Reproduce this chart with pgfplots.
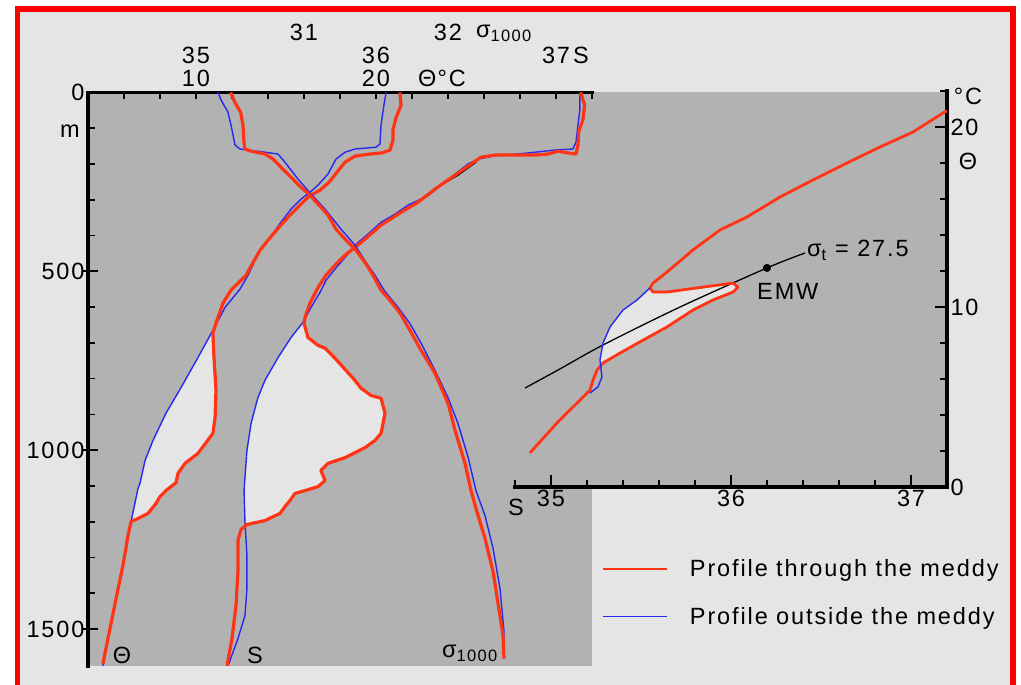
\documentclass[border=0pt]{standalone}
\usepackage{fontspec}
\setmainfont{Liberation Sans}[LetterSpace=8]
\usepackage{pgfplots}
\pgfplotsset{compat=1.18}
\definecolor{framered}{RGB}{255,0,0}
\definecolor{meddyred}{RGB}{255,52,20}
\definecolor{outblue}{RGB}{40,40,240}
\definecolor{panel}{RGB}{178,178,178}
\definecolor{paper}{RGB}{229,229,229}
\newcommand{\lab}{\fontsize{23.5bp}{27bp}\selectfont}

\pgfplotsset{
  depth panel/.style={
    at={(mainNW)}, anchor=north west, scale only axis,
    width=504bp, height=574bp,
    ymin=0, ymax=1605, y dir=reverse,
    tick label style={font=\lab},
    tick style={black, line width=1.7bp},
  },
  in meddy/.style={draw=meddyred, line width=3.2bp, line join=round},
  out meddy/.style={draw=outblue, line width=1.4bp, line join=round},
  lens/.style={fill=paper, draw=none},
}

\begin{document}
\begin{tikzpicture}[x=1bp, y=1bp, font=\lab]
\useasboundingbox (0,0) rectangle (1021,685);
\fill[white] (0,0) rectangle (1021,685);
\fill[paper] (17.5,0) rectangle (1013,676);
\draw[framered, line width=5.5bp] (17.5,0) -- (17.5,676) -- (1013,676) -- (1013,0);
% grey panels of the depth profiles and of the Theta-S diagram
\fill[panel] (88,19) rectangle (592,592.5);
\fill[panel] (510,196) rectangle (947,592.5);
\coordinate (mainNW) at (88,592.5);
\coordinate (insetSW) at (515,198);

% ---------------- potential temperature profile ----------------
\begin{axis}[depth panel,
  xmin=4, xmax=32,
  axis x line*=top, axis y line*=left,
  axis line style={line width=3.3bp, line cap=rect},
  xtick={10,20}, xticklabels={10,20}, xtick style={draw=none},
  xticklabel style={anchor=center, inner sep=0pt, yshift=14.5bp},
  ytick={0,500,1000,1500}, yticklabels={0,500,1000,1500},
  minor ytick={100,200,300,400,600,700,800,900,1100,1200,1300,1400},
  tick align=inside, major tick length=10bp, minor tick length=7bp,
  extra y ticks={500,1000,1500}, extra y tick labels={},
  extra y tick style={tick align=outside, major tick length=6bp},
]
\addplot[lens] coordinates {
  (10.94,673) (11.0,741) (11.11,833) (11.06,909) (10.94,953) (10.11,1009)
  (9.39,1037) (9.0,1065) (8.89,1091) (8.33,1113) (8.0,1130) (7.78,1149)
  (7.33,1177) (6.78,1191) (6.39,1200)
  (6.78,1107) (6.89,1093) (7.17,1029) (7.61,973) (8.33,897) (9.17,825)
  (10.11,741) (10.94,665)} -- cycle;
\addplot[out meddy] coordinates {
  (20.56,0) (20.44,35) (20.28,91) (20.22,144) (20.0,153) (18.83,158)
  (18.28,167) (17.78,186) (17.33,228) (16.78,259) (16.33,279) (15.83,298)
  (15.28,326) (14.72,363) (14.11,405) (13.61,438) (13.28,469) (12.89,511)
  (12.44,550) (11.61,601) (10.94,665) (10.11,741) (9.17,825) (8.33,897)
  (7.61,973) (7.17,1029) (6.89,1093) (6.78,1107) (6.39,1200) (6.06,1295)
  (5.67,1387) (5.28,1480) (4.94,1575) (4.83,1603)};
\addplot[in meddy] coordinates {
  (21.33,0) (21.39,35) (21.11,71) (20.94,105) (20.94,133) (20.78,161)
  (20.33,169) (19.67,172) (18.83,178) (18.28,195) (17.83,223) (17.39,251)
  (16.89,273) (16.28,290) (15.78,315) (15.22,343) (14.61,377) (14.0,413)
  (13.56,441) (13.17,475) (12.78,511) (11.94,553) (11.5,589) (11.11,645)
  (10.94,673) (11.0,741) (11.11,833) (11.06,909) (10.94,953) (10.11,1009)
  (9.39,1037) (9.0,1065) (8.89,1091) (8.33,1113) (8.0,1130) (7.78,1149)
  (7.33,1177) (6.78,1191) (6.39,1200) (6.22,1239) (5.94,1323) (5.56,1415)
  (5.22,1499) (4.83,1597)};
\end{axis}

% ---------------- salinity profile ----------------
\begin{axis}[depth panel,
  xmin=34.4, xmax=37.2,
  axis x line*=top, hide y axis,
  x axis line style={draw=none},
  xtick={34.6,34.8,35,35.2,35.4,35.6,35.8,36,36.2,36.4,36.6,36.8,37,37.2},
  xticklabels={,,35,,,,,36,,,,,37,},
  tick align=inside, major tick length=6.5bp,
  xticklabel style={anchor=center, inner sep=0pt, yshift=37bp},
]
\addplot[lens] coordinates {
  (35.600,645) (35.622,685) (35.678,707) (35.717,715) (35.772,743)
  (35.833,777) (35.883,805) (35.917,827) (35.972,847) (36.028,855)
  (36.050,897) (36.039,925) (36.028,953) (35.994,973) (35.939,993)
  (35.883,1007) (35.828,1021) (35.733,1037) (35.694,1057) (35.717,1085)
  (35.678,1102) (35.606,1113) (35.550,1121) (35.522,1141) (35.494,1158)
  (35.467,1177) (35.428,1186) (35.383,1197) (35.328,1203) (35.283,1208)
  (35.272,1200) (35.267,1113) (35.272,1077) (35.283,1001) (35.306,925)
  (35.344,853) (35.383,805) (35.456,741) (35.528,685) (35.594,643)} -- cycle;
\addplot[out meddy] coordinates {
  (37.132,0) (37.133,46) (37.122,91) (37.111,139) (37.094,158) (36.994,161)
  (36.883,167) (36.789,172) (36.678,175) (36.567,186) (36.511,200)
  (36.439,228) (36.344,265) (36.250,298) (36.178,315) (36.106,340)
  (36.028,363) (35.956,396) (35.883,427) (35.828,461) (35.772,494)
  (35.722,525) (35.689,559) (35.639,601) (35.594,643) (35.528,685)
  (35.456,741) (35.383,805) (35.344,853) (35.306,925) (35.283,1001)
  (35.272,1077) (35.267,1113) (35.272,1200) (35.283,1295) (35.283,1387)
  (35.272,1463) (35.233,1527) (35.178,1603)};
\addplot[black, line width=1.3bp] coordinates {
  (36.278,293) (36.361,259) (36.456,231) (36.556,195)};
\addplot[in meddy] coordinates {
  (37.137,0) (37.159,35) (37.150,74) (37.126,111) (37.122,147) (37.111,172)
  (37.067,169) (37.011,164) (36.956,172) (36.883,175) (36.806,175)
  (36.733,175) (36.661,175) (36.583,181) (36.528,200) (36.439,231)
  (36.328,270) (36.233,307) (36.139,335) (36.028,371) (35.939,410)
  (35.883,433) (35.828,455) (35.772,483) (35.722,511) (35.678,545)
  (35.633,589) (35.606,629) (35.600,645) (35.622,685) (35.678,707)
  (35.717,715) (35.772,743) (35.833,777) (35.883,805) (35.917,827)
  (35.972,847) (36.028,855) (36.050,897) (36.039,925) (36.028,953)
  (35.994,973) (35.939,993) (35.883,1007) (35.828,1021) (35.733,1037)
  (35.694,1057) (35.717,1085) (35.678,1102) (35.606,1113) (35.550,1121)
  (35.522,1141) (35.494,1158) (35.467,1177) (35.428,1186) (35.383,1197)
  (35.328,1203) (35.283,1208) (35.250,1222) (35.233,1253) (35.233,1340)
  (35.222,1435) (35.200,1527) (35.172,1603)};
\end{axis}

% ---------------- potential density sigma_1000 profile ----------------
\begin{axis}[depth panel,
  xmin=29.5, xmax=33,
  axis x line*=top, hide y axis,
  x axis line style={draw=none},
  xtick={31,32}, xticklabels={31,32}, xtick style={draw=none},
  xticklabel style={anchor=center, inner sep=0pt, yshift=60bp},
]
\addplot[out meddy] coordinates {
  (30.403,0) (30.424,21) (30.472,55) (30.493,91) (30.521,147) (30.556,158)
  (30.729,167) (30.819,172) (30.868,195) (30.958,242) (31.049,284)
  (31.146,326) (31.257,382) (31.354,427) (31.431,475) (31.493,511)
  (31.556,553) (31.653,601) (31.736,646) (31.813,701) (31.910,777)
  (32.0,853) (32.069,925) (32.139,1019) (32.194,1113) (32.257,1183)
  (32.313,1275) (32.361,1387) (32.389,1507) (32.389,1527)};
\addplot[in meddy] coordinates {
  (30.491,0) (30.519,27) (30.560,55) (30.576,91) (30.583,139) (30.590,158)
  (30.632,164) (30.729,172) (30.785,186) (30.840,209) (30.910,237)
  (30.979,265) (31.035,284) (31.097,312) (31.167,343) (31.222,382)
  (31.292,413) (31.354,438) (31.424,475) (31.479,511) (31.535,553)
  (31.597,581) (31.667,617) (31.736,665) (31.813,721) (31.910,785)
  (32.0,869) (32.049,945) (32.118,1037) (32.160,1113) (32.194,1163)
  (32.257,1247) (32.313,1340) (32.361,1463) (32.382,1519) (32.389,1583)};
\end{axis}

% ---------------- Theta-S diagram ----------------
\begin{axis}[at={(insetSW)}, anchor=south west, scale only axis,
  width=432bp, height=396bp,
  xmin=34.8, xmax=37.2, ymin=0, ymax=22,
  axis x line*=bottom, axis y line*=right,
  axis line style={line width=3.3bp, line cap=rect},
  tick label style={font=\lab},
  tick style={black, line width=1.7bp},
  xtick={35,36,37}, xticklabels={35,36,37},
  minor xtick={34.8,35.2,35.4,35.6,35.8,36.2,36.4,36.6,36.8,37.2},
  ytick={0,10,20}, yticklabels={0,10,20},
  minor ytick={2,4,6,8,12,14,16,18,22},
  tick align=inside, major tick length=12bp, minor tick length=7bp,
  legend style={draw=none, fill=none, at={(0.199,-0.178)}, anchor=north west,
    font=\lab, inner sep=0pt, row sep=25bp,
    /tikz/every odd column/.append style={column sep=20bp}},
  legend cell align=left,
  legend image code/.code={\draw[#1] (0bp,0bp) -- (64bp,0bp);},
]
\addplot[lens, forget plot] coordinates {
  (35.550,11.06) (35.567,10.83) (35.644,10.83) (35.811,11.06) (36.011,11.33)
  (36.039,11.11) (36.011,10.83) (35.900,10.39) (35.789,9.83) (35.644,8.89)
  (35.494,8.06) (35.383,7.44) (35.289,6.89) (35.272,6.78)
  (35.272,7.06) (35.289,8.0) (35.328,8.89) (35.400,9.83) (35.478,10.39)} -- cycle;
\addplot[black, line width=1.3bp, smooth, forget plot] coordinates {
  (34.856,5.5) (35.05,6.56) (35.289,7.89) (35.717,10.0) (36.2,12.17) (36.411,13.0)};
\addplot[only marks, mark=*, mark size=3.8bp, black, forget plot] coordinates {(36.2,12.17)};
\addplot[draw=meddyred, line width=2.8bp, line join=round] coordinates {
  (37.2,20.9) (37.178,20.78) (37.011,19.72) (36.828,18.89) (36.644,18.0)
  (36.456,17.06) (36.272,16.11) (36.089,15.0) (35.939,14.28) (35.789,13.17)
  (35.644,11.94) (35.567,11.33) (35.550,11.06) (35.567,10.83) (35.644,10.83)
  (35.811,11.06) (36.011,11.33) (36.039,11.11) (36.011,10.83) (35.900,10.39)
  (35.789,9.83) (35.644,8.89) (35.494,8.06) (35.383,7.44) (35.289,6.89)
  (35.256,6.5) (35.233,5.94) (35.217,5.39) (35.161,4.83) (35.033,3.56)
  (34.883,1.89)};
\addlegendentry{Profile through the meddy}
\addplot[draw=outblue, line width=1.4bp, line join=round] coordinates {
  (35.550,11.06) (35.478,10.39) (35.400,9.83) (35.328,8.89) (35.289,8.0)
  (35.272,7.06) (35.283,6.11) (35.261,5.56) (35.217,5.22)};
\addlegendentry{Profile outside the meddy}
\end{axis}

% ---------------- labels ----------------
\node at (70,554) {m};
\node at (442,607) {Θ\kern1bp°C};
\node at (581,629.5) {S};
\node[anchor=base west, inner sep=0pt] at (476,647.5) {σ\textsubscript{1000}};
\node at (122,30) {Θ};
\node at (255,30) {S};
\node[anchor=base west, inner sep=0pt] at (442,27.5) {σ\textsubscript{1000}};
\node at (516,178) {S};
\node at (968,589) {°C};
\node at (968,524) {Θ};
\node[anchor=base west, inner sep=0pt] at (807,428) {σ\textsubscript{t} = 27.5};
\node[anchor=base west, inner sep=0pt] at (757,385) {EMW};
\end{tikzpicture}
\end{document}
